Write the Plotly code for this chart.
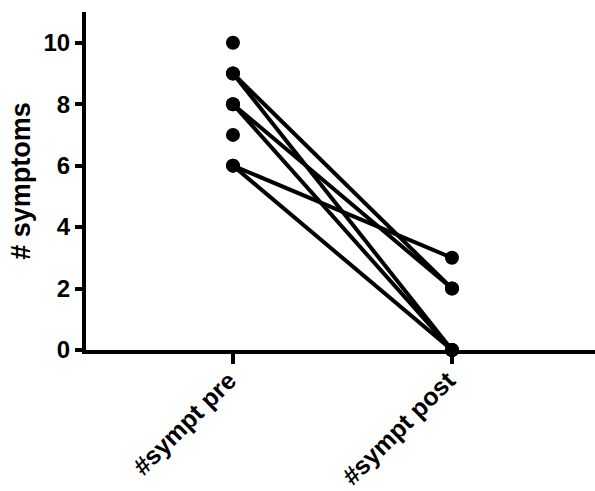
import plotly.graph_objects as go

categories = ["#sympt pre", "#sympt post"]
pre_values = [10, 9, 9, 8, 8, 7, 6, 6]
post_values = [None, 2, 0, 2, 0, None, 3, 0]
y_ticks = [0, 2, 4, 6, 8, 10]

fig = go.Figure()
xs = [0, 1]
for pre, post in zip(pre_values, post_values):
    if post is not None:
        fig.add_trace(go.Scatter(x=xs, y=[pre, post], mode="lines+markers",
                                 line=dict(color="black", width=4),
                                 marker=dict(color="black", size=14),
                                 showlegend=False, cliponaxis=False))
    else:
        fig.add_trace(go.Scatter(x=[0], y=[pre], mode="markers",
                                 marker=dict(color="black", size=14),
                                 showlegend=False, cliponaxis=False))

font = dict(family="Liberation Sans, Arial, sans-serif", color="black")
fig.update_layout(
    width=595, height=491,
    margin=dict(l=86, r=0, t=12, b=141),
    plot_bgcolor="white", paper_bgcolor="white",
    font=font,
    xaxis=dict(range=[-0.671, 1.653], tickvals=xs, ticktext=["<b>%s</b>" % c for c in categories],
               tickangle=-45, showgrid=False, zeroline=False, automargin=False,
               showline=True, linecolor="black", linewidth=4,
               ticks="outside", ticklen=10, tickwidth=4, tickcolor="black",
               ticklabelstandoff=-8, ticklabelshift=-4,
               tickfont=dict(size=25, **font)),
    yaxis=dict(range=[0, 11], tickvals=y_ticks, ticktext=["<b>%d</b>" % v for v in y_ticks],
               showgrid=False, zeroline=False, automargin=False,
               showline=True, linecolor="black", linewidth=4,
               ticks="outside", ticklen=7, tickwidth=4, tickcolor="black",
               tickfont=dict(size=24, **font),
               title=dict(text="<b># symptoms</b>", font=dict(size=27, **font), standoff=6)),
)
fig.write_html("out.html", config={"displayModeBar": False},
               post_script="document.body.style.margin='0';document.body.style.overflow='hidden';")
